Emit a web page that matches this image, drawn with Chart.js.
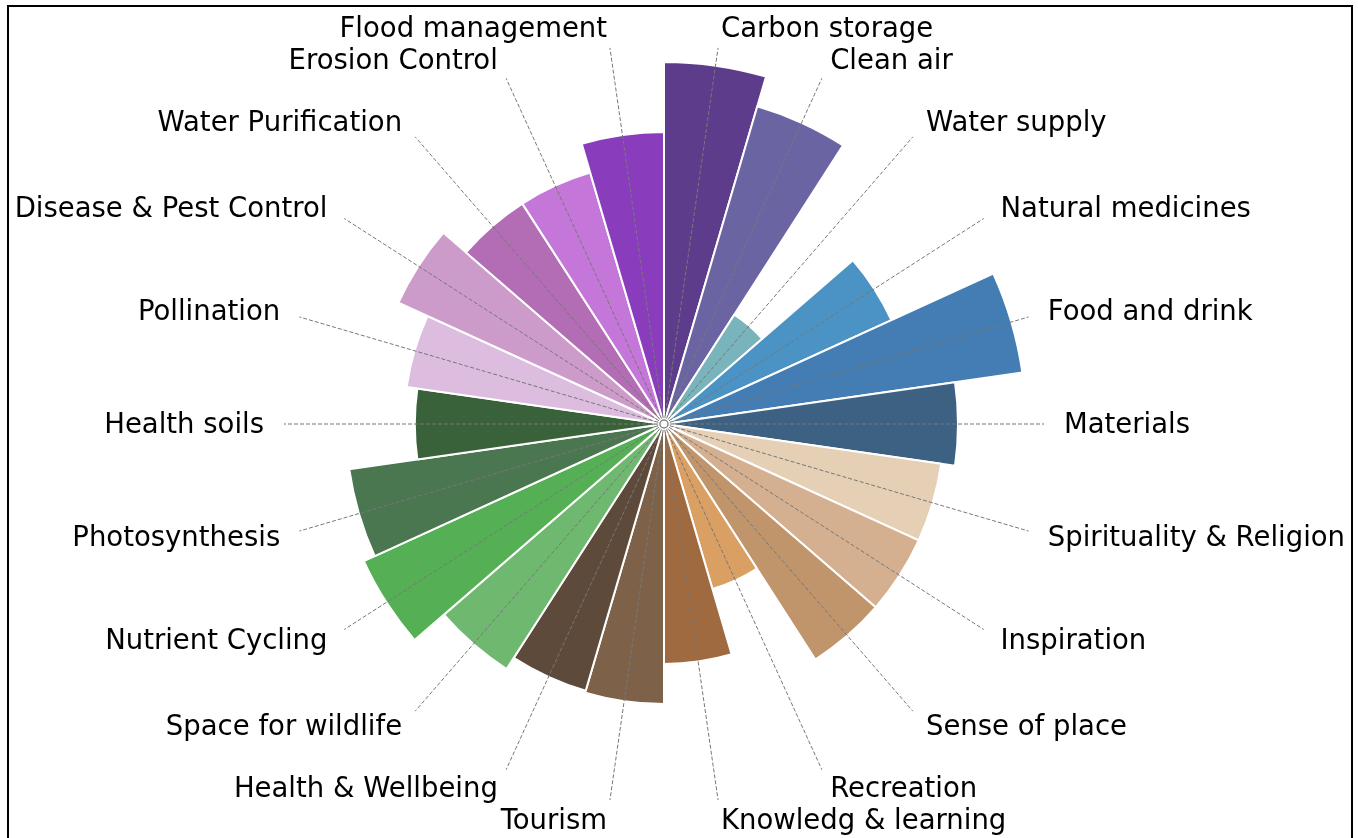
<!DOCTYPE html>
<html>
<head>
<meta charset="utf-8">
<script src="https://cdn.jsdelivr.net/npm/chart.js@4/dist/chart.umd.min.js"></script>
<style>
  body { margin: 0; background: #ffffff; }
  canvas { display: block; }
</style>
</head>
<body>
<canvas id="myChart" width="1358" height="838"></canvas>
<script>
// categorias en sentido horario desde arriba
const categorias = [
  "Carbon storage", "Clean air", "Water supply", "Natural medicines",
  "Food and drink", "Materials", "Spirituality & Religion", "Inspiration",
  "Sense of place", "Recreation", "Knowledg & learning", "Tourism",
  "Health & Wellbeing", "Space for wildlife", "Nutrient Cycling",
  "Photosynthesis", "Health soils", "Pollination", "Disease & Pest Control",
  "Water Purification", "Erosion Control", "Flood management"
];

const valores = [
  90.5, 82.8, 32.5, 62.5,
  90.5, 73.5, 70, 70,
  70, 43, 60, 70,
  69.5, 72.8, 82.5,
  79.5, 62.3, 65, 73,
  65.5, 65.5, 73
];

const colores = [
  "#5e3c8c", "#6b64a3", "#79b4bd", "#4a93c4",
  "#437db3", "#3d6182", "#e5cfb5", "#d4b090",
  "#c0956c", "#d99f63", "#a06a40", "#7d6249",
  "#5e4a3a", "#6fb870", "#55b055",
  "#4a7650", "#3a623a", "#dcbde0", "#cd9bca",
  "#b26db4", "#c476d9", "#893dbc"
];

const escalaMax = 100;
const lineaHasta = 95;   // fin de la linea guia (en unidades de la escala)
const textoEn = 100;     // posicion de la etiqueta

const grafica = document.getElementById("myChart").getContext("2d");

// lineas guia, etiquetas y marco
const etiquetasPlugin = {
  id: "etiquetas",
  afterDatasetsDraw(chart) {
    const ctx = chart.ctx;
    const escala = chart.scales.r;
    const cx = escala.xCenter;
    const cy = escala.yCenter;
    const rLinea = escala.getDistanceFromCenterForValue(lineaHasta);
    const rTexto = escala.getDistanceFromCenterForValue(textoEn);
    const arcos = chart.getDatasetMeta(0).data;

    ctx.save();
    ctx.strokeStyle = "#777777";
    ctx.lineWidth = 1;
    ctx.setLineDash([4, 2]);
    arcos.forEach((arco) => {
      const a = (arco.startAngle + arco.endAngle) / 2;
      ctx.beginPath();
      ctx.moveTo(cx, cy);
      ctx.lineTo(cx + Math.cos(a) * rLinea, cy + Math.sin(a) * rLinea);
      ctx.stroke();
    });
    ctx.setLineDash([]);

    // circulito del centro
    ctx.beginPath();
    ctx.arc(cx, cy, 4, 0, Math.PI * 2);
    ctx.fillStyle = "#ffffff";
    ctx.fill();
    ctx.lineWidth = 1.5;
    ctx.strokeStyle = "#888888";
    ctx.stroke();

    ctx.font = "27.5px 'DejaVu Sans'";
    ctx.fillStyle = "#000000";
    ctx.textBaseline = "middle";
    arcos.forEach((arco, i) => {
      const a = (arco.startAngle + arco.endAngle) / 2;
      const x = cx + Math.cos(a) * rTexto;
      const y = cy + Math.sin(a) * rTexto + 2;
      ctx.textAlign = Math.cos(a) >= 0 ? "left" : "right";
      ctx.fillText(chart.data.labels[i], x, y);
    });

    // marco
    ctx.lineWidth = 2;
    ctx.strokeStyle = "#000000";
    ctx.strokeRect(8, 6, 1344, 840);
    ctx.restore();
  }
};

const myChart = new Chart(grafica, {
  type: "polarArea",
  data: {
    labels: categorias,
    datasets: [{
      data: valores,
      backgroundColor: colores,
      borderColor: "#ffffff",
      borderWidth: 2
    }]
  },
  options: {
    responsive: false,
    animation: false,
    layout: {
      padding: { top: 24, bottom: 14, left: 100, right: 130 }
    },
    plugins: {
      legend: { display: false },
      tooltip: { enabled: false }
    },
    scales: {
      r: {
        min: 0,
        max: escalaMax,
        ticks: { display: false },
        grid: { display: false },
        angleLines: { display: false },
        pointLabels: { display: false }
      }
    }
  },
  plugins: [etiquetasPlugin]
});
</script>
</body>
</html>
